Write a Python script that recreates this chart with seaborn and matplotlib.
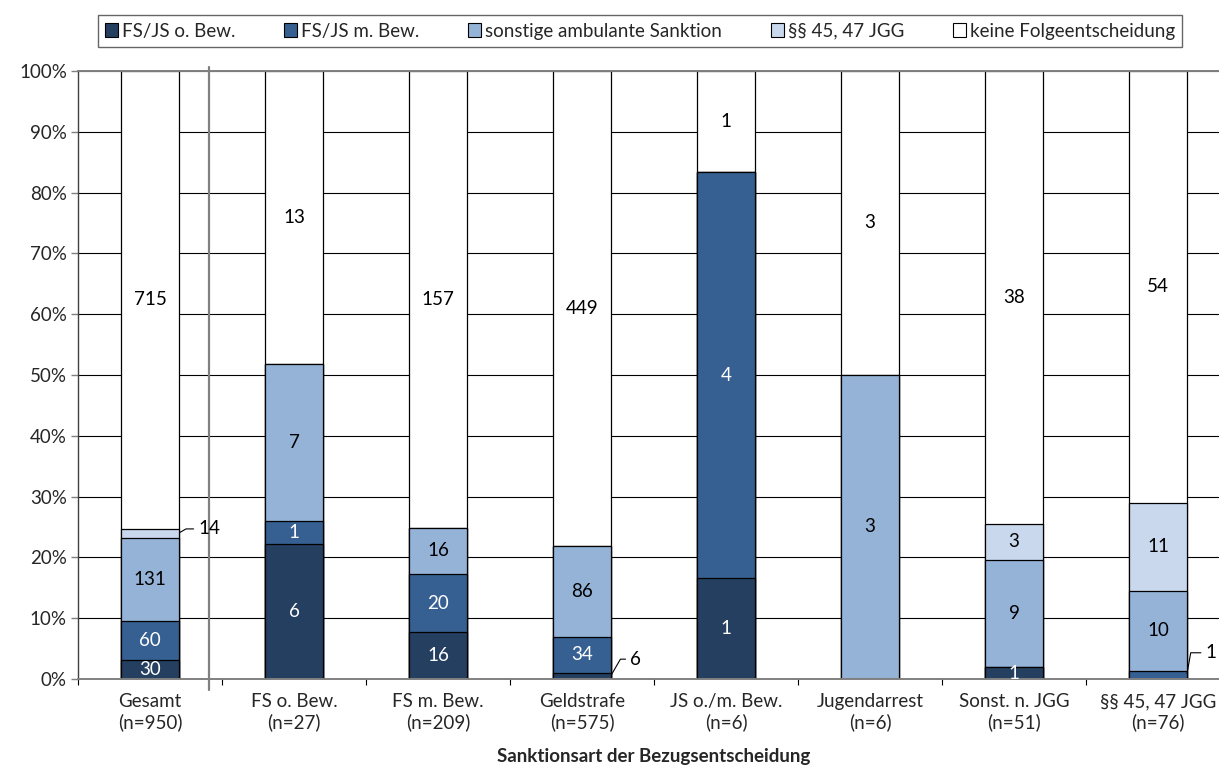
import seaborn as sns
import pandas as pd
import matplotlib.pyplot as plt
import numpy as np
from matplotlib.patches import Patch

# Anzahl Folgeentscheidungen je Sanktionsart der Bezugsentscheidung
categories = ["Gesamt\n(n=950)", "FS o. Bew.\n(n=27)", "FS m. Bew.\n(n=209)", "Geldstrafe\n(n=575)",
              "JS o./m. Bew.\n(n=6)", "Jugendarrest\n(n=6)", "Sonst. n. JGG\n(n=51)", "§§ 45, 47 JGG\n(n=76)"]
series = ["FS/JS o. Bew.", "FS/JS m. Bew.", "sonstige ambulante Sanktion", "§§ 45, 47 JGG", "keine Folgeentscheidung"]
fs_js_o_bew = [30, 6, 16, 6, 1, 0, 1, 0]
fs_js_m_bew = [60, 1, 20, 34, 4, 0, 0, 1]
sonst_ambulant = [131, 7, 16, 86, 0, 3, 9, 10]
par_45_47 = [14, 0, 0, 0, 0, 0, 3, 11]
keine = [715, 13, 157, 449, 1, 3, 38, 54]

colors = ["#243F60", "#366092", "#95B3D7", "#C9D8EC", "#FFFFFF"]
text_colors = ["white", "white", "black", "black", "black"]

counts = pd.DataFrame(np.array([fs_js_o_bew, fs_js_m_bew, sonst_ambulant, par_45_47, keine]).T,
                      columns=series)
counts["kategorie"] = categories
pct = counts[series].div(counts[series].sum(axis=1), axis=0) * 100
cum = pct.cumsum(axis=1)
cum["kategorie"] = categories

sns.set_style("white")
plt.rcParams["font.family"] = ["Lato", "DejaVu Sans"]
fs = 13.5

fig = plt.figure(figsize=(12.19, 7.70), dpi=100)
ax = fig.add_axes([78 / 1219, 91 / 770, 1152 / 1219, 608 / 770])

# stacked bars: draw cumulative heights from top layer down
for i in range(len(series) - 1, -1, -1):
    sns.barplot(data=cum, x="kategorie", y=series[i], color=colors[i], saturation=1,
                width=0.4, edgecolor="black", linewidth=0.9, ax=ax, zorder=2)

# segment labels
callouts = {(0, 3): (14, 3, 30), (3, 0): (14, 12, 60), (7, 1): (13.5, 16, 80)}
for c in range(len(categories)):
    base = 0
    for s in range(len(series)):
        v = counts.iloc[c][series[s]]
        h = pct.iloc[c][series[s]]
        if v > 0:
            ymid = base + h / 2
            if (c, s) in callouts:
                dx, dy, ang = callouts[(c, s)]
                ax.annotate(str(v), xy=(c + 0.2, ymid), xytext=(dx, dy), textcoords="offset points",
                            ha="left", va="center", fontsize=fs, color="black",
                            arrowprops=dict(arrowstyle="-", color="black", lw=0.8, shrinkA=1, shrinkB=1,
                                            connectionstyle=f"angle,angleA=0,angleB={ang},rad=0"))
            else:
                ax.text(c, ymid, str(v), ha="center", va="center", fontsize=fs,
                        color=text_colors[s], zorder=5, clip_on=True)
        base += h

ax.set_ylim(0, 100)
ax.set_xlim(-0.5, 7.5)
ax.set_yticks(np.arange(0, 101, 10))
ax.set_yticklabels([f"{t}%" for t in range(0, 101, 10)], fontsize=fs)
ax.yaxis.grid(True, color="black", lw=0.8)
ax.set_axisbelow(True)
ax.tick_params(axis="y", length=5, color="#808080", width=1, left=True, pad=3)
ax.tick_params(axis="x", which="major", length=0, pad=10, labelsize=fs)
ax.set_xticks(np.arange(-0.5, 7.6, 1), minor=True)
ax.tick_params(axis="x", which="minor", length=4, color="black", width=0.8, bottom=True)
ax.set_xlabel("Sanktionsart der Bezugsentscheidung", fontsize=fs, fontweight="bold", labelpad=12)
ax.set_ylabel("")
for t in ax.get_xticklabels():
    t.set_linespacing(1.25)

for side in ["left", "bottom", "top"]:
    ax.spines[side].set_visible(True)
    ax.spines[side].set_color("#808080")
    ax.spines[side].set_linewidth(1.4)
ax.spines["left"].set_color("#404040")
ax.spines["left"].set_linewidth(1)
ax.spines["right"].set_visible(False)

# separator after "Gesamt"
ax.plot([0.413, 0.413], [-1.8, 100.7], color="#808080", lw=1.6, clip_on=False, zorder=1)

handles = [Patch(facecolor=colors[i], edgecolor="black", linewidth=0.8) for i in range(len(series))]
leg = fig.legend(handles, series, loc="center", bbox_to_anchor=(640 / 1219, 1 - 31 / 770),
                 ncol=5, fontsize=fs, frameon=True, fancybox=False, edgecolor="#404040",
                 handlelength=0.7, handleheight=0.7, handletextpad=0.2, columnspacing=2.6,
                 borderpad=0.4, borderaxespad=0)
leg.get_frame().set_linewidth(1)

fig.savefig("out.png", dpi=100)
